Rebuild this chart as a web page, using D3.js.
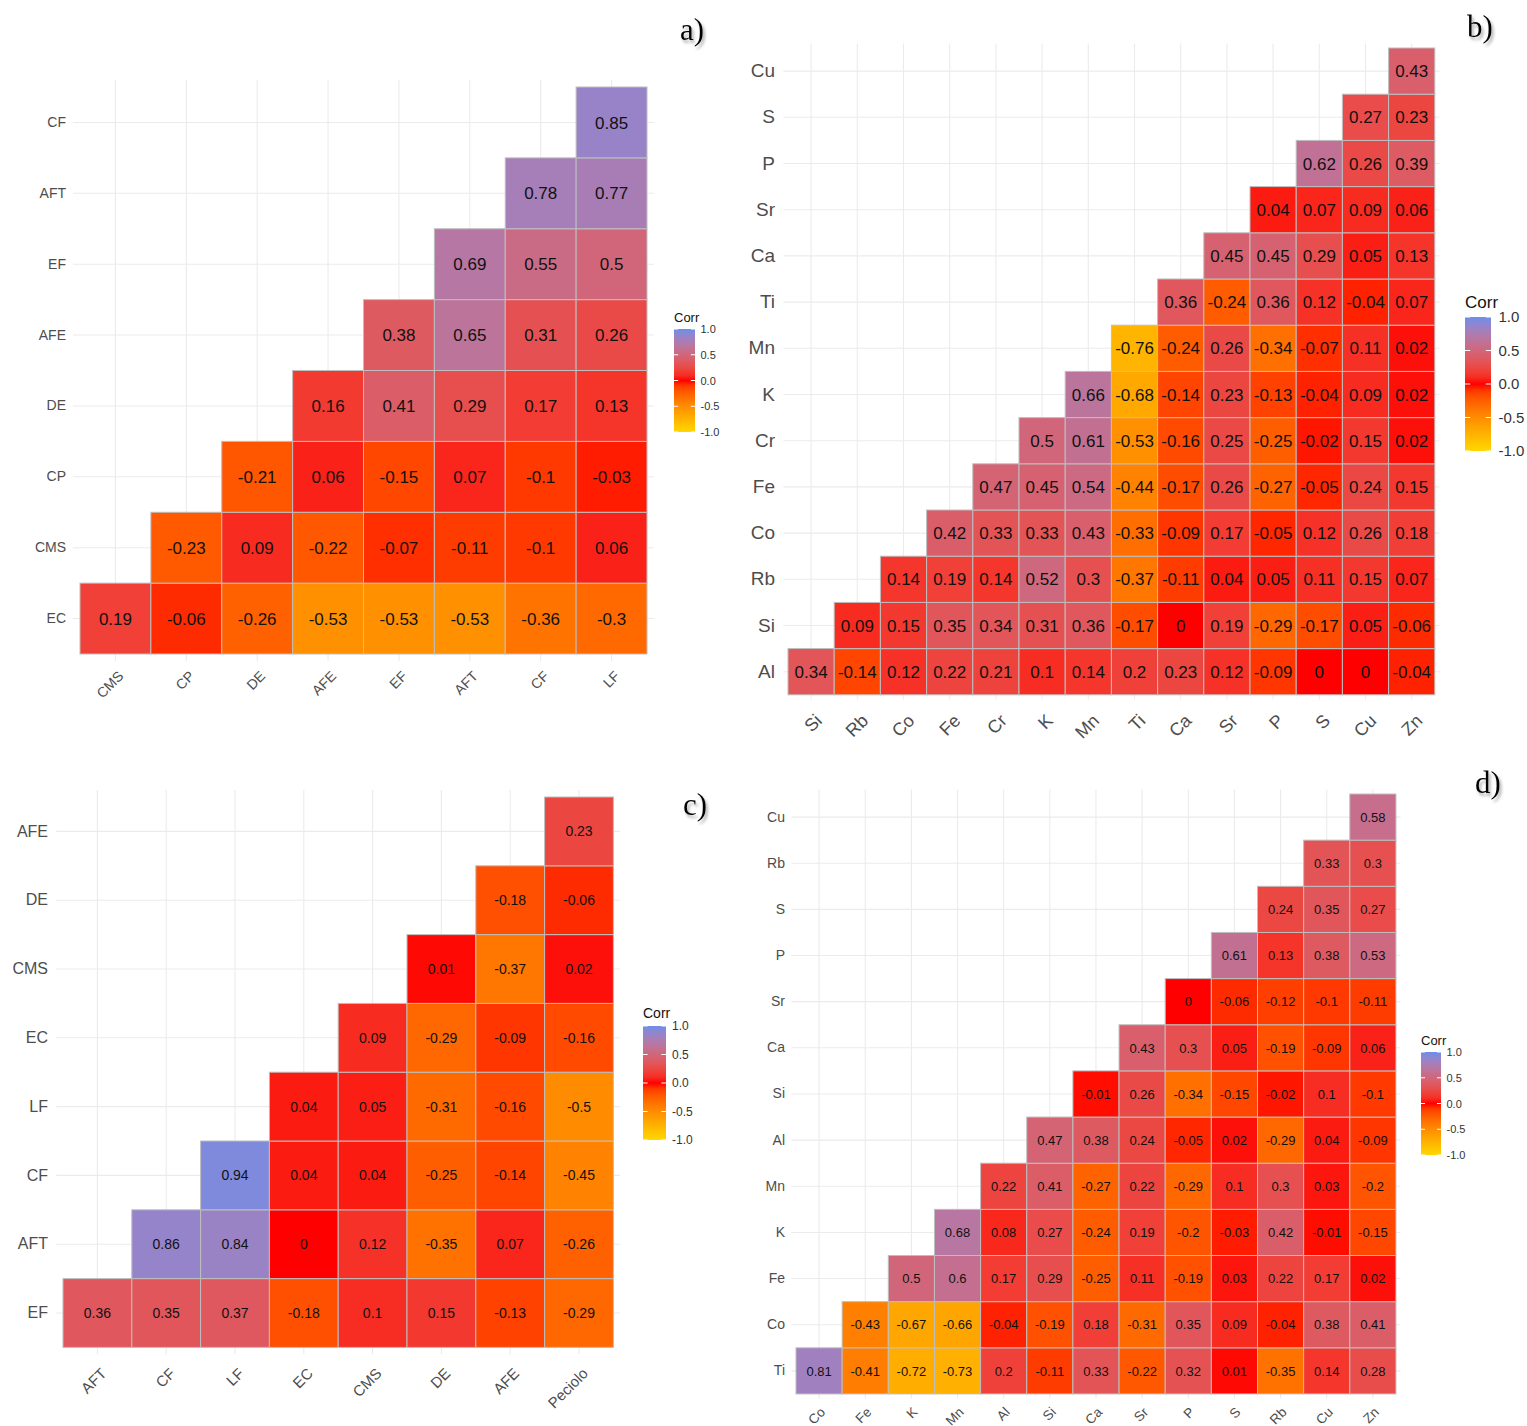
<!DOCTYPE html>
<html lang="en">
<head>
<meta charset="UTF-8">
<script src="https://d3js.org/d3.v7.min.js"></script>
<style>
  body { margin: 0; background: #fff; }
  svg { display: block; font-family: "Liberation Sans", Arial, sans-serif; }
  .ylab text, .xlab text { fill: #4d4d4d; }
  .grid line { stroke: #ebebeb; stroke-width: 1.1; }
  .grid path, .ylab path, .xlab path { display: none; }
</style>
</head>
<body>
<div id="chart"></div>
<script>
// panel a
const aCols = ["CMS", "CP", "DE", "AFE", "EF", "AFT", "CF", "LF"];
const aRows = ["EC", "CMS", "CP", "DE", "AFE", "EF", "AFT", "CF"];
const aValues = [
  [0.19, -0.06, -0.26, -0.53, -0.53, -0.53, -0.36, -0.3],
  [-0.23, 0.09, -0.22, -0.07, -0.11, -0.1, 0.06],
  [-0.21, 0.06, -0.15, 0.07, -0.1, -0.03],
  [0.16, 0.41, 0.29, 0.17, 0.13],
  [0.38, 0.65, 0.31, 0.26],
  [0.69, 0.55, 0.5],
  [0.78, 0.77],
  [0.85]
];

// panel b
const bCols = ["Si", "Rb", "Co", "Fe", "Cr", "K", "Mn", "Ti", "Ca", "Sr", "P", "S", "Cu", "Zn"];
const bRows = ["Al", "Si", "Rb", "Co", "Fe", "Cr", "K", "Mn", "Ti", "Ca", "Sr", "P", "S", "Cu"];
const bValues = [
  [0.34, -0.14, 0.12, 0.22, 0.21, 0.1, 0.14, 0.2, 0.23, 0.12, -0.09, 0, 0, -0.04],
  [0.09, 0.15, 0.35, 0.34, 0.31, 0.36, -0.17, 0, 0.19, -0.29, -0.17, 0.05, -0.06],
  [0.14, 0.19, 0.14, 0.52, 0.3, -0.37, -0.11, 0.04, 0.05, 0.11, 0.15, 0.07],
  [0.42, 0.33, 0.33, 0.43, -0.33, -0.09, 0.17, -0.05, 0.12, 0.26, 0.18],
  [0.47, 0.45, 0.54, -0.44, -0.17, 0.26, -0.27, -0.05, 0.24, 0.15],
  [0.5, 0.61, -0.53, -0.16, 0.25, -0.25, -0.02, 0.15, 0.02],
  [0.66, -0.68, -0.14, 0.23, -0.13, -0.04, 0.09, 0.02],
  [-0.76, -0.24, 0.26, -0.34, -0.07, 0.11, 0.02],
  [0.36, -0.24, 0.36, 0.12, -0.04, 0.07],
  [0.45, 0.45, 0.29, 0.05, 0.13],
  [0.04, 0.07, 0.09, 0.06],
  [0.62, 0.26, 0.39],
  [0.27, 0.23],
  [0.43]
];

// panel c
const cCols = ["AFT", "CF", "LF", "EC", "CMS", "DE", "AFE", "Peciolo"];
const cRows = ["EF", "AFT", "CF", "LF", "EC", "CMS", "DE", "AFE"];
const cValues = [
  [0.36, 0.35, 0.37, -0.18, 0.1, 0.15, -0.13, -0.29],
  [0.86, 0.84, 0, 0.12, -0.35, 0.07, -0.26],
  [0.94, 0.04, 0.04, -0.25, -0.14, -0.45],
  [0.04, 0.05, -0.31, -0.16, -0.5],
  [0.09, -0.29, -0.09, -0.16],
  [0.01, -0.37, 0.02],
  [-0.18, -0.06],
  [0.23]
];

// panel d
const dCols = ["Co", "Fe", "K", "Mn", "Al", "Si", "Ca", "Sr", "P", "S", "Rb", "Cu", "Zn"];
const dRows = ["Ti", "Co", "Fe", "K", "Mn", "Al", "Si", "Ca", "Sr", "P", "S", "Rb", "Cu"];
const dValues = [
  [0.81, -0.41, -0.72, -0.73, 0.2, -0.11, 0.33, -0.22, 0.32, 0.01, -0.35, 0.14, 0.28],
  [-0.43, -0.67, -0.66, -0.04, -0.19, 0.18, -0.31, 0.35, 0.09, -0.04, 0.38, 0.41],
  [0.5, 0.6, 0.17, 0.29, -0.25, 0.11, -0.19, 0.03, 0.22, 0.17, 0.02],
  [0.68, 0.08, 0.27, -0.24, 0.19, -0.2, -0.03, 0.42, -0.01, -0.15],
  [0.22, 0.41, -0.27, 0.22, -0.29, 0.1, 0.3, 0.03, -0.2],
  [0.47, 0.38, 0.24, -0.05, 0.02, -0.29, 0.04, -0.09],
  [-0.01, 0.26, -0.34, -0.15, -0.02, 0.1, -0.1],
  [0.43, 0.3, 0.05, -0.19, -0.09, 0.06],
  [0, -0.06, -0.12, -0.1, -0.11],
  [0.61, 0.13, 0.38, 0.53],
  [0.24, 0.35, 0.27],
  [0.33, 0.3],
  [0.58]
];

const legendTicks = [-1, -0.5, 0, 0.5, 1];

const color = d3.scaleLinear()
  .domain([-1, 0, 1])
  .range(["#FFD700", "#FF0000", "#6C8EEA"])
  .interpolate(d3.interpolateLab);

const svg = d3.select("#chart").append("svg")
  .attr("width", 1527)
  .attr("height", 1426);

svg.append("rect").attr("width", 1527).attr("height", 1426).attr("fill", "#fff");

const defs = svg.append("defs");
defs.append("filter").attr("id", "shadow")
  .append("feDropShadow")
  .attr("dx", 2).attr("dy", 3).attr("stdDeviation", 1.5)
  .attr("flood-color", "#777").attr("flood-opacity", 0.6);

const grad = defs.append("linearGradient").attr("id", "corrGrad")
  .attr("x1", 0).attr("y1", 1).attr("x2", 0).attr("y2", 0);
d3.range(0, 1.0001, 0.05).forEach(t => {
  grad.append("stop").attr("offset", t).attr("stop-color", color(-1 + 2 * t));
});

const panels = [
  { cols: aCols, rows: aRows, values: aValues, left: 80, top: 87, cell: 70.875,
    yRight: 66, yFont: 14, xFont: 14, xdx: 9, xdy: 23, cellFont: 17,
    leg: { x: 674, y: 329, w: 21, h: 103, tFont: 13, lFont: 11 }, letter: "a)", lx: 680, ly: 40 },
  { cols: bCols, rows: bRows, values: bValues, left: 788, top: 48, cell: 46.2,
    yRight: 775, yFont: 19, xFont: 18, xdx: 12, xdy: 27, cellFont: 17,
    leg: { x: 1465, y: 317, w: 26, h: 134, tFont: 17, lFont: 15 }, letter: "b)", lx: 1467, ly: 37 },
  { cols: cCols, rows: cRows, values: cValues, left: 63, top: 797, cell: 68.8,
    yRight: 48, yFont: 16, xFont: 15, xdx: 10, xdy: 27, cellFont: 14,
    leg: { x: 643, y: 1026, w: 23, h: 114, tFont: 14, lFont: 12 }, letter: "c)", lx: 683, ly: 815 },
  { cols: dCols, rows: dRows, values: dValues, left: 796, top: 794, cell: 46.15,
    yRight: 785, yFont: 14, xFont: 13.5, xdx: 7, xdy: 19, cellFont: 13,
    leg: { x: 1421, y: 1052, w: 20, h: 103, tFont: 13, lFont: 11 }, letter: "d)", lx: 1475, ly: 793 }
];

panels.forEach(drawPanel);

function drawPanel(p) {
  const n = p.cols.length;
  const size = n * p.cell;
  const ext = p.cell * 0.1;
  const x = d3.scaleBand().domain(p.cols).range([p.left, p.left + size]);
  const y = d3.scaleBand().domain(p.rows).range([p.top + size, p.top]);
  const bw = x.bandwidth();

  // grid
  svg.append("g").attr("class", "grid")
    .attr("transform", `translate(0,${p.top + size + ext})`)
    .call(d3.axisBottom(x).tickSize(-(size + 2 * ext)).tickFormat(""));
  svg.append("g").attr("class", "grid")
    .attr("transform", `translate(${p.left - ext},0)`)
    .call(d3.axisLeft(y).tickSize(-(size + 2 * ext)).tickFormat(""));

  // tiles
  const cells = p.values.flatMap((row, i) =>
    row.map((v, j) => ({ r: p.rows[i], c: p.cols[i + j], v: v })));

  const g = svg.append("g");
  g.selectAll("rect").data(cells).enter().append("rect")
    .attr("x", d => x(d.c))
    .attr("y", d => y(d.r))
    .attr("width", bw)
    .attr("height", y.bandwidth())
    .attr("fill", d => color(d.v))
    .attr("stroke", "#bebebe")
    .attr("stroke-width", 1);

  g.selectAll("text").data(cells).enter().append("text")
    .attr("x", d => x(d.c) + bw / 2)
    .attr("y", d => y(d.r) + y.bandwidth() / 2)
    .attr("dy", "0.36em")
    .attr("text-anchor", "middle")
    .attr("font-size", p.cellFont)
    .attr("fill", "#111")
    .text(d => String(d.v));

  // y labels
  const ya = svg.append("g").attr("class", "ylab")
    .attr("transform", `translate(${p.yRight},0)`)
    .call(d3.axisLeft(y).tickSize(0).tickPadding(0));
  ya.selectAll("text").attr("font-size", p.yFont).attr("font-family", null);

  // x labels
  const xa = svg.append("g").attr("class", "xlab")
    .attr("transform", `translate(0,${p.top + size})`)
    .call(d3.axisBottom(x).tickSize(0).tickPadding(0));
  xa.selectAll("text")
    .attr("font-size", p.xFont).attr("font-family", null)
    .attr("y", 0).attr("dy", 0)
    .attr("text-anchor", "end")
    .attr("transform", `translate(${p.xdx},${p.xdy}) rotate(-45)`);

  // legend
  const L = p.leg;
  svg.append("text")
    .attr("x", L.x).attr("y", L.y - L.tFont * 0.55)
    .attr("font-size", L.tFont).attr("fill", "#111")
    .text("Corr");
  svg.append("rect")
    .attr("x", L.x).attr("y", L.y).attr("width", L.w).attr("height", L.h)
    .attr("fill", "url(#corrGrad)");
  const ls = d3.scaleLinear().domain([-1, 1]).range([L.y + L.h, L.y]);
  const tl = svg.append("g");
  legendTicks.forEach(t => {
    tl.append("line").attr("x1", L.x).attr("x2", L.x + L.w * 0.2)
      .attr("y1", ls(t)).attr("y2", ls(t)).attr("stroke", "#fff").attr("stroke-width", 1);
    tl.append("line").attr("x1", L.x + L.w * 0.8).attr("x2", L.x + L.w)
      .attr("y1", ls(t)).attr("y2", ls(t)).attr("stroke", "#fff").attr("stroke-width", 1);
  });
  const la = svg.append("g")
    .attr("transform", `translate(${L.x + L.w},0)`)
    .call(d3.axisRight(ls).tickValues(legendTicks).tickSize(0).tickPadding(L.lFont * 0.5)
      .tickFormat(d => d.toFixed(1)));
  la.select(".domain").remove();
  la.selectAll("text").attr("font-size", L.lFont).attr("font-family", null).attr("fill", "#333");

  // panel letter
  svg.append("text")
    .attr("x", p.lx).attr("y", p.ly)
    .attr("font-family", "'Liberation Serif', 'Times New Roman', serif")
    .attr("font-size", 31)
    .attr("fill", "#000")
    .attr("filter", "url(#shadow)")
    .text(p.letter);
}
</script>
</body>
</html>
